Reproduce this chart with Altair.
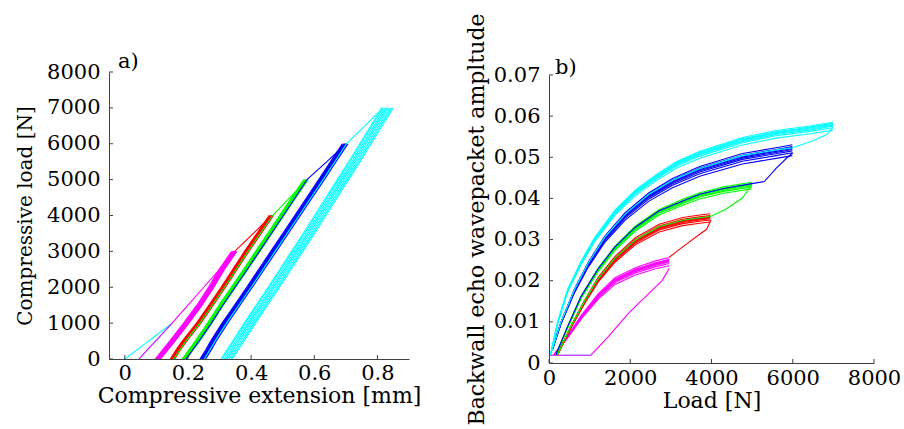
import altair as alt
import pandas as pd

FONT = "DejaVu Serif"
FS = 21
AXC = "#404040"

# ---------------- Panel a) : compressive load vs extension ----------------
A_LOADS_MAG = [0, 250, 500, 1000, 1500, 2000, 2500, 3000]
A_EXT_MAG = [0.106, 0.129, 0.152, 0.196, 0.238, 0.275, 0.309, 0.348]
A_OFF_MAG = [-0.010, -0.007, -0.005, -0.003, -0.001, 0.001, 0.003, 0.005, 0.007]

A_LOADS_RED = [0, 250, 500, 1000, 1500, 2000, 2500, 3000, 3500, 4000]
A_EXT_RED = [0.152, 0.170, 0.190, 0.235, 0.274, 0.313, 0.350, 0.387, 0.426, 0.465]
A_OFF_RED = [-0.008, -0.006, -0.004, -0.002, 0.0, 0.002, 0.004, 0.006]

A_LOADS_GRN = [0, 250, 500, 1000, 1500, 2000, 2500, 3000, 3500, 4000, 4500, 5000]
A_EXT_GRN = [0.190, 0.210, 0.231, 0.270, 0.306, 0.345, 0.384, 0.422, 0.460, 0.498, 0.536, 0.575]
A_OFF_GRN = [-0.008, -0.006, -0.004, -0.002, 0.0, 0.002, 0.004, 0.006]

A_LOADS_BLU = [0, 250, 500, 1000, 1500, 2000, 2500, 3000, 3500, 4000, 4500, 5000, 5500, 6000]
A_EXT_BLU = [0.248, 0.266, 0.282, 0.318, 0.357, 0.396, 0.434, 0.472, 0.510, 0.548, 0.586, 0.624, 0.661, 0.699]
A_OFF_BLU = [-0.010, -0.007, -0.005, -0.003, -0.001, 0.001, 0.003, 0.005, 0.008]

A_LOADS_CYN = [0, 250, 500, 1000, 1500, 2000, 2500, 3000, 3500, 4000, 4500, 5000, 5500, 6000, 6500, 7000]
A_EXT_CYN = [0.325, 0.343, 0.362, 0.398, 0.436, 0.474, 0.511, 0.548, 0.585, 0.621, 0.657, 0.693, 0.729, 0.764, 0.799, 0.834]
A_OFF_CYN = [-0.020, -0.016, -0.010, -0.005, 0.0, 0.006, 0.011, 0.016]

# first loading paths (thin single lines)
A_CYN0_X = [0.0, 0.05, 0.10, 0.15, 0.11, 0.075, 0.045]
A_CYN0_Y = [0, 330, 670, 1000, 620, 290, 0]
A_MAG1_X = [0.045, 0.075, 0.11, 0.15, 0.20, 0.25, 0.30, 0.348]
A_MAG1_Y = [0, 290, 620, 1000, 1500, 2000, 2500, 3000]
A_RED1_X = [0.348, 0.407, 0.465]
A_RED1_Y = [3000, 3500, 4000]
A_GRN1_X = [0.155, 0.193, 0.238, 0.277, 0.316, 0.353, 0.390, 0.429, 0.468, 0.522, 0.577]
A_GRN1_Y = [0, 500, 1000, 1500, 2000, 2500, 3000, 3500, 4000, 4500, 5000]
A_BLU1_X = [0.194, 0.235, 0.274, 0.310, 0.349, 0.388, 0.426, 0.464, 0.502, 0.540, 0.577, 0.640, 0.700]
A_BLU1_Y = [0, 500, 1000, 1500, 2000, 2500, 3000, 3500, 4000, 4500, 5000, 5500, 6000]
A_CYN1_X = [0.252, 0.286, 0.322, 0.361, 0.400, 0.438, 0.476, 0.514, 0.552, 0.590, 0.628, 0.665, 0.702, 0.760, 0.818]
A_CYN1_Y = [0, 500, 1000, 1500, 2000, 2500, 3000, 3500, 4000, 4500, 5000, 5500, 6000, 6500, 7000]

A_XTICKS = [0, 0.2, 0.4, 0.6, 0.8]
A_YTICKS = [0, 1000, 2000, 3000, 4000, 5000, 6000, 7000, 8000]

# ---------------- Panel b) : echo amplitude vs load ----------------
B_LOAD_MAG = [125, 460, 790, 1210, 1625, 2125, 2625, 2960]
B_AMP_MAG = [0.0020, 0.0064, 0.0112, 0.0163, 0.0201, 0.0225, 0.0241, 0.0249]
B_FAC_MAG = [0.95, 0.972, 0.986, 0.994, 1.0, 1.004, 1.012, 1.03]

B_LOAD_RED = [210, 540, 875, 1210, 1625, 2125, 2710, 3290, 3710, 3970]
B_AMP_RED = [0.0020, 0.0088, 0.0149, 0.0203, 0.0253, 0.0297, 0.0329, 0.0345, 0.0351, 0.0354]
B_FAC_RED = [0.968, 0.982, 0.99, 0.996, 1.0, 1.004, 1.012, 1.025]

B_LOAD_GRN = [170, 460, 790, 1210, 1625, 2125, 2710, 3290, 3710, 4300, 4990]
B_AMP_GRN = [0.0020, 0.0088, 0.0161, 0.0228, 0.0281, 0.0329, 0.0369, 0.0393, 0.0409, 0.0423, 0.0434]
B_FAC_GRN = [0.975, 0.986, 0.993, 0.998, 1.0, 1.004, 1.012]

B_LOAD_BLU = [80, 290, 625, 960, 1375, 1875, 2460, 3040, 3710, 4760, 5590, 5990]
B_AMP_BLU = [0.0032, 0.0097, 0.0177, 0.0241, 0.0305, 0.0361, 0.0409, 0.0443, 0.0472, 0.0503, 0.0517, 0.0524]
B_FAC_BLU = [0.962, 0.975, 0.984, 0.99, 0.995, 1.0, 1.004, 1.012]

B_LOAD_CYN = [40, 210, 460, 790, 1130, 1630, 2130, 2630, 3130, 3710, 4760, 5590, 6430, 6990]
B_AMP_CYN = [0.0020, 0.0097, 0.0177, 0.0245, 0.0303, 0.0369, 0.0417, 0.0453, 0.0485, 0.0510, 0.0543, 0.0560, 0.0571, 0.0580]
B_FAC_CYN = [0.976, 0.986, 0.992, 0.996, 1.0, 1.004, 1.009]

B_CYN0_X = [20, 1030]
B_CYN0_Y = [0.0019, 0.0019]
B_MAG1_X = [20, 1030, 1460, 1960, 2460, 2790, 2960]
B_MAG1_Y = [0.0019, 0.0019, 0.0064, 0.0121, 0.0169, 0.0201, 0.0230]
B_RED1_X = [2960, 3300, 3710, 3880, 3990]
B_RED1_Y = [0.0257, 0.0283, 0.0313, 0.0325, 0.0348]
B_GRN1_X = [210, 540, 875, 1210, 1625, 2125, 2710, 3290, 3710, 3970, 4340, 4760, 5000]
B_GRN1_Y = [0.0020, 0.0089, 0.0151, 0.0205, 0.0255, 0.0299, 0.0331, 0.0347, 0.0353, 0.0356, 0.0373, 0.0401, 0.0434]
B_BLU1_X = [170, 460, 790, 1210, 1625, 2125, 2710, 3290, 3710, 4300, 4990, 5300, 5590, 5840, 6000]
B_BLU1_Y = [0.0020, 0.0089, 0.0162, 0.0229, 0.0282, 0.0330, 0.0370, 0.0394, 0.0410, 0.0424, 0.0436, 0.0441, 0.0473, 0.0497, 0.0511]
B_CYN1_X = [80, 290, 625, 960, 1375, 1875, 2460, 3040, 3710, 4760, 5590, 6000, 6500, 6850, 7000]
B_CYN1_Y = [0.0032, 0.0098, 0.0178, 0.0242, 0.0306, 0.0362, 0.0410, 0.0444, 0.0473, 0.0504, 0.0518, 0.0523, 0.0540, 0.0556, 0.0574]

B_XTICKS = [0, 2000, 4000, 6000, 8000]
B_YTICKS = [0, 0.01, 0.02, 0.03, 0.04, 0.05, 0.06, 0.07]

COLOR_NAMES = ["cyan", "magenta", "red", "green", "blue"]
COLOR_HEX = ["#00FFFF", "#FF00FF", "#FF0000", "#00FF00", "#0000FF"]

# ---------------- build tables ----------------
rows_a, rows_b = [], []


def add(rows, grp, clr, sid, xs, ys):
    for i, (x, y) in enumerate(zip(xs, ys)):
        rows.append({"grp": grp, "clr": clr, "sid": sid, "i": i, "x": x, "y": y})


# panel a, in drawing order
add(rows_a, 0, "cyan", "a_c0", A_CYN0_X, A_CYN0_Y)
for k, o in enumerate(A_OFF_MAG):
    add(rows_a, 1, "magenta", f"a_m{k}", [e + o for e in A_EXT_MAG], A_LOADS_MAG)
add(rows_a, 1, "magenta", "a_m1st", A_MAG1_X, A_MAG1_Y)
for k, o in enumerate(A_OFF_RED):
    add(rows_a, 2, "red", f"a_r{k}", [e + o for e in A_EXT_RED], A_LOADS_RED)
add(rows_a, 2, "red", "a_r1st", A_RED1_X, A_RED1_Y)
for k, o in enumerate(A_OFF_GRN):
    add(rows_a, 3, "green", f"a_g{k}", [e + o for e in A_EXT_GRN], A_LOADS_GRN)
add(rows_a, 3, "green", "a_g1st", A_GRN1_X, A_GRN1_Y)
for k, o in enumerate(A_OFF_BLU):
    add(rows_a, 4, "blue", f"a_b{k}", [e + o for e in A_EXT_BLU], A_LOADS_BLU)
add(rows_a, 4, "blue", "a_b1st", A_BLU1_X, A_BLU1_Y)
for k, o in enumerate(A_OFF_CYN):
    add(rows_a, 5, "cyan", f"a_c{k + 1}", [e + o for e in A_EXT_CYN], A_LOADS_CYN)
add(rows_a, 5, "cyan", "a_c1st", A_CYN1_X, A_CYN1_Y)

# panel b
add(rows_b, 0, "cyan", "b_c0", B_CYN0_X, B_CYN0_Y)
for k, f in enumerate(B_FAC_MAG):
    add(rows_b, 1, "magenta", f"b_m{k}", B_LOAD_MAG, [a * f for a in B_AMP_MAG])
add(rows_b, 1, "magenta", "b_m1st", B_MAG1_X, B_MAG1_Y)
for k, f in enumerate(B_FAC_RED):
    add(rows_b, 2, "red", f"b_r{k}", B_LOAD_RED, [a * f for a in B_AMP_RED])
add(rows_b, 2, "red", "b_r1st", B_RED1_X, B_RED1_Y)
for k, f in enumerate(B_FAC_GRN):
    add(rows_b, 3, "green", f"b_g{k}", B_LOAD_GRN, [a * f for a in B_AMP_GRN])
add(rows_b, 3, "green", "b_g1st", B_GRN1_X, B_GRN1_Y)
for k, f in enumerate(B_FAC_BLU):
    add(rows_b, 4, "blue", f"b_b{k}", B_LOAD_BLU, [a * f for a in B_AMP_BLU])
add(rows_b, 4, "blue", "b_b1st", B_BLU1_X, B_BLU1_Y)
for k, f in enumerate(B_FAC_CYN):
    add(rows_b, 5, "cyan", f"b_c{k + 1}", B_LOAD_CYN, [a * f for a in B_AMP_CYN])
add(rows_b, 5, "cyan", "b_c1st", B_CYN1_X, B_CYN1_Y)

df_a = pd.DataFrame(rows_a)
df_b = pd.DataFrame(rows_b)

cscale = alt.Scale(domain=COLOR_NAMES, range=COLOR_HEX)

AW, AH = 300, 287
BW, BH = 325, 291


def panel(df, W, H, xscale, yscale, xaxis, yaxis, xticks, yticks, label, lab_x, lab_y):
    layers = []
    for g in range(6):
        layers.append(
            alt.Chart(df)
            .transform_filter(alt.datum.grp == g)
            .mark_line(strokeWidth=1.1, clip=True)
            .encode(
                x=alt.X("x:Q", scale=xscale, axis=xaxis),
                y=alt.Y("y:Q", scale=yscale, axis=yaxis),
                color=alt.Color("clr:N", scale=cscale, legend=None),
                detail="sid:N",
                order="i:Q",
            )
        )
    yt = (
        alt.Chart(pd.DataFrame({"v": yticks}))
        .mark_rule(color=AXC, strokeWidth=1)
        .encode(y=alt.Y("v:Q", scale=yscale, axis=yaxis), x=alt.value(0), x2=alt.value(4))
    )
    xt = (
        alt.Chart(pd.DataFrame({"v": xticks}))
        .mark_rule(color=AXC, strokeWidth=1)
        .encode(x=alt.X("v:Q", scale=xscale, axis=xaxis), y=alt.value(H), y2=alt.value(H - 4))
    )
    txt = (
        alt.Chart(pd.DataFrame({"t": [label]}))
        .mark_text(font=FONT, fontSize=FS, align="left", baseline="alphabetic", color="black")
        .encode(text="t:N", x=alt.value(lab_x), y=alt.value(lab_y))
    )
    return alt.layer(*layers, yt, xt, txt).properties(width=W, height=H)


left = panel(
    df_a, AW, AH,
    alt.Scale(domain=[-0.05, 0.9], nice=False, zero=False),
    alt.Scale(domain=[0, 8000], nice=False),
    alt.Axis(values=A_XTICKS, format=".1~f", title="Compressive extension [mm]",
             labelPadding=3, titlePadding=2, titleFontSize=22,
             labelOverlap=False, labelFlush=False),
    alt.Axis(values=A_YTICKS, format="d", title="Compressive load [N]",
             labelPadding=9, titlePadding=11, titleFontSize=20, labelOverlap=False),
    A_XTICKS, A_YTICKS, "a)", 9, -4,
)

right = panel(
    df_b, BW, BH,
    alt.Scale(domain=[0, 8000], nice=False),
    alt.Scale(domain=[0, 0.07], nice=False, range=[BH, 3]),
    alt.Axis(values=B_XTICKS, format="d", title="Load [N]",
             labelPadding=4, titlePadding=2, titleFontSize=22,
             labelOverlap=False, labelFlush=False),
    alt.Axis(values=B_YTICKS, format=".2~f", title="Backwall echo wavepacket ampltude",
             labelPadding=9, titlePadding=5, titleFontSize=22, labelOverlap=False),
    B_XTICKS, B_YTICKS, "b)", 6, 2,
)

chart = (
    alt.hconcat(left, right, spacing=140, bounds="flush")
    .properties(
        autosize=alt.AutoSizeParams(type="none"),
        padding={"left": 109, "top": 72, "right": 795, "bottom": 357},
        background="white",
    )
    .configure_view(stroke=None)
    .configure_axis(
        labelFont=FONT, titleFont=FONT, labelFontSize=FS, titleFontSize=FS,
        titleFontWeight="normal", labelColor="black", titleColor="black",
        domainColor=AXC, domainWidth=1, ticks=False, grid=False,
        labelFlush=False, labelOverlap=False,
    )
)

chart.save("out.html", embed_options={"renderer": "svg", "actions": False})
